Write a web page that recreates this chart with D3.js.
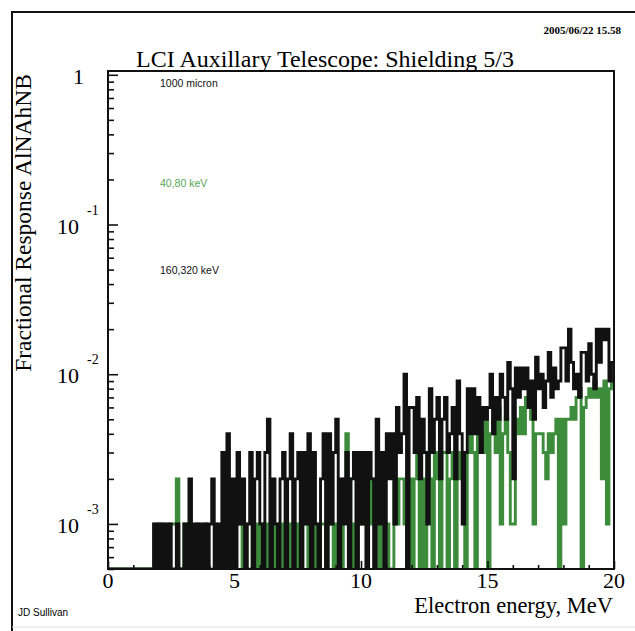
<!DOCTYPE html>
<html>
<head>
<meta charset="utf-8">
<script src="https://cdn.jsdelivr.net/npm/d3@7"></script>
<style>
  body { margin: 0; background: #fff; }
  text { fill: #000; }
</style>
</head>
<body>
<script>
// histogram bins: 0.1 MeV wide, 0 - 20 MeV
const binWidth = 0.1;
// entries per bin, fraction = entries * 1e-3
const countScale = 1e-3;

// 160,320 keV (black)
const blackCounts = [
  0, 0, 0, 0, 0, 0, 0, 0, 0, 0,      // 0
  0, 0, 0, 0, 0, 0, 0, 0, 1, 0,      // 1
  1, 0, 1, 0, 1, 0, 0, 1, 0, 0,      // 2
  1, 0, 2, 0, 1, 0, 1, 0, 1, 0,      // 3
  1, 2, 0, 1, 0, 3, 0, 4, 0, 2,      // 4
  0, 3, 1, 2, 0, 1, 3, 0, 2, 3,      // 5
  1, 0, 3, 5, 0, 2, 1, 0, 2, 3,      // 6
  0, 2, 4, 0, 2, 3, 0, 3, 1, 4,      // 7
  0, 3, 1, 0, 2, 4, 0, 4, 1, 3,      // 8
  5, 0, 2, 1, 3, 0, 2, 3, 0, 3,      // 9
  1, 3, 0, 3, 2, 0, 5, 1, 3, 0,      // 10
  4, 2, 4, 1, 6, 3, 4, 10, 0, 6,     // 11
  6, 3, 7, 2, 5, 3, 1, 8, 3, 5,      // 12
  7, 2, 5, 7, 3, 4, 6, 2, 9, 4,      // 13
  1, 3, 8, 4, 8, 4, 7, 3, 6, 5,      // 14
  6, 10, 4, 7, 5, 10, 7, 5, 12, 8,   // 15
  2, 11, 7, 11, 8, 11, 6, 9, 5, 13,  // 16
  8, 10, 6, 9, 14, 7, 11, 8, 9, 15,  // 17
  15, 9, 20, 12, 8, 10, 7, 14, 14, 9, // 18
  16, 10, 8, 20, 12, 20, 17, 20, 9, 12 // 19
];

// 40,80 keV (green)
const greenCounts = [
  0, 0, 0, 0, 0, 0, 0, 0, 0, 0,      // 0
  0, 0, 0, 0, 0, 0, 0, 0, 0, 1,      // 1
  0, 1, 0, 0, 1, 1, 1, 2, 0, 0,      // 2
  1, 1, 0, 0, 0, 1, 0, 0, 1, 0,      // 3
  0, 0, 1, 0, 0, 0, 1, 0, 0, 0,      // 4
  1, 1, 1, 0, 1, 0, 0, 1, 0, 1,      // 5
  0, 1, 0, 1, 1, 0, 1, 0, 0, 1,      // 6
  1, 0, 1, 1, 0, 1, 0, 1, 1, 0,      // 7
  1, 0, 1, 0, 1, 1, 0, 1, 1, 0,      // 8
  1, 1, 0, 2, 4, 2, 1, 0, 1, 1,      // 9
  2, 1, 0, 1, 2, 1, 1, 0, 2, 1,      // 10
  1, 0, 0, 2, 1, 2, 2, 1, 0, 2,      // 11
  0, 2, 3, 0, 2, 0, 3, 2, 0, 3,      // 12
  2, 0, 3, 3, 0, 2, 3, 0, 2, 3,      // 13
  3, 0, 3, 4, 3, 0, 5, 4, 3, 5,      // 14
  0, 4, 5, 3, 6, 1, 4, 5, 3, 1,      // 15
  1, 5, 4, 6, 4, 7, 7, 5, 1, 4,      // 16
  4, 4, 3, 2, 4, 3, 4, 5, 0, 5,      // 17
  1, 5, 5, 6, 5, 7, 8, 0, 6, 7,      // 18
  8, 7, 9, 7, 8, 2, 9, 1, 8, 9       // 19
];

const xRange = [0, 20];
const yRange = [5e-4, 1.06];
const xMajorTicks = [0, 5, 10, 15, 20];
const xMinorTicks = [1, 2, 3, 4, 6, 7, 8, 9, 11, 12, 13, 14, 16, 17, 18, 19];
const yDecades = [1, 0.1, 0.01, 0.001];
const yDecadeExp = [0, -1, -2, -3];
const yMinorMantissa = [2, 3, 4, 5, 6, 7, 8, 9];

const titleText = 'LCI Auxillary Telescope: Shielding 5/3';
const dateText = '2005/06/22  15.58';
const yTitle = 'Fractional Response AlNAhNB';
const xTitle = 'Electron energy, MeV';
const authorText = 'JD Sullivan';
const noteTexts = ['1000 micron', '40,80 keV', '160,320 keV'];

const serif = "'Liberation Serif', 'Times New Roman', serif";
const sans = "'Liberation Sans', Arial, sans-serif";
const green = '#3c8c3c';

let svg = d3
  .select('body')
  .append('svg')
  .attr('width', 635)
  .attr('height', 631)
  .style('background', 'white');

let plotArea = { x: 108, y: 71, width: 506, height: 498 };

let scaleX = d3.scaleLinear(xRange, [plotArea.x, plotArea.x + plotArea.width]);
let scaleY = d3
  .scaleLog(yRange, [plotArea.y + plotArea.height, plotArea.y])
  .clamp(true);

// page frame
svg.append('path').attr('d', 'M12,631V12H635').attr('fill', 'none')
  .attr('stroke', '#111').attr('stroke-width', 2);
svg.append('line').attr('x1', 12).attr('x2', 635).attr('y1', 627).attr('y2', 627)
  .attr('stroke', '#ddd').attr('stroke-width', 1);

svg.append('clipPath').attr('id', 'plot-area').append('rect')
  .attr('x', plotArea.x).attr('y', plotArea.y)
  .attr('width', plotArea.width).attr('height', plotArea.height);

// histograms
function histPath(counts) {
  let pts = counts.map((c, i) => [i * binWidth, c]);
  pts.push([counts.length * binWidth, counts[counts.length - 1]]);
  return d3.line()
    .x(d => scaleX(d[0]))
    .y(d => scaleY(d[1] > 0 ? d[1] * countScale : 1e-6))
    .curve(d3.curveStepAfter)(pts);
}

// green first, black drawn over it
let hist = svg.append('g').attr('clip-path', 'url(#plot-area)');
hist.append('path').attr('d', histPath(greenCounts))
  .attr('fill', 'none').attr('stroke', green).attr('stroke-width', 2.9);
hist.append('path').attr('d', histPath(blackCounts))
  .attr('fill', 'none').attr('stroke', '#111').attr('stroke-width', 2.9);

// axes (ticks inside the frame)
let yMinor = [];
[1e-4, 1e-3, 1e-2, 1e-1].forEach(d => yMinorMantissa.forEach(m => {
  let v = m * d;
  if (v >= yRange[0] && v <= yRange[1]) yMinor.push(v);
}));

function styleAxis(g) {
  g.select('.domain').remove();
  g.selectAll('line').attr('stroke', '#111').attr('stroke-width', 1.6);
}

svg.append('g').attr('transform', `translate(${plotArea.x},0)`)
  .call(d3.axisRight(scaleY).tickValues(yDecades).tickSize(10).tickFormat(''))
  .call(styleAxis);
svg.append('g').attr('transform', `translate(${plotArea.x},0)`)
  .call(d3.axisRight(scaleY).tickValues(yMinor).tickSize(6).tickFormat(''))
  .call(styleAxis);
svg.append('g').attr('transform', `translate(0,${plotArea.y + plotArea.height})`)
  .call(d3.axisTop(scaleX).tickValues(xMajorTicks).tickSize(8).tickFormat(''))
  .call(styleAxis);
svg.append('g').attr('transform', `translate(0,${plotArea.y + plotArea.height})`)
  .call(d3.axisTop(scaleX).tickValues(xMinorTicks).tickSize(4).tickFormat(''))
  .call(styleAxis);

svg.append('rect')
  .attr('x', plotArea.x).attr('y', plotArea.y)
  .attr('width', plotArea.width).attr('height', plotArea.height)
  .attr('fill', 'none').attr('stroke', '#111').attr('stroke-width', 2);

// tick labels
svg.append('g').selectAll('text').data(xMajorTicks).join('text')
  .attr('x', d => scaleX(d)).attr('y', 588)
  .attr('text-anchor', 'middle')
  .style('font-family', serif).style('font-size', '22px')
  .text(d => d);

let yLab = svg.append('g').selectAll('g').data(yDecades).join('g')
  .attr('transform', d => `translate(0,${scaleY(d)})`);
yLab.append('text')
  .attr('x', (d, i) => (yDecadeExp[i] === 0 ? 84 : 79)).attr('y', 9)
  .attr('text-anchor', 'end')
  .style('font-family', serif).style('font-size', '22px')
  .text((d, i) => (yDecadeExp[i] === 0 ? '1' : '10'));
yLab.filter((d, i) => yDecadeExp[i] !== 0).append('text')
  .attr('x', 87).attr('y', -10)
  .style('font-family', serif).style('font-size', '14px')
  .text(d => yDecadeExp[yDecades.indexOf(d)]);

// titles
svg.append('text').attr('x', 325).attr('y', 67).attr('text-anchor', 'middle')
  .style('font-family', serif).style('font-size', '24px').text(titleText);
svg.append('text').attr('x', 621).attr('y', 34).attr('text-anchor', 'end')
  .style('font-family', serif).style('font-size', '11px').style('font-weight', 'bold')
  .text(dateText);
svg.append('text').attr('transform', 'translate(31,223) rotate(-90)')
  .attr('text-anchor', 'middle')
  .style('font-family', serif).style('font-size', '23.5px').text(yTitle);
svg.append('text').attr('x', 613).attr('y', 613).attr('text-anchor', 'end')
  .style('font-family', serif).style('font-size', '22.5px').text(xTitle);
svg.append('text').attr('x', 18).attr('y', 616)
  .style('font-family', sans).style('font-size', '10px').text(authorText);

// legend notes
let noteY = [87, 187, 274];
let noteColor = ['#111', '#5aa85a', '#111'];
svg.append('g').selectAll('text').data(noteTexts).join('text')
  .attr('x', 160).attr('y', (d, i) => noteY[i])
  .style('font-family', sans).style('font-size', '10.5px')
  .style('fill', (d, i) => noteColor[i])
  .text(d => d);
</script>
</body>
</html>
